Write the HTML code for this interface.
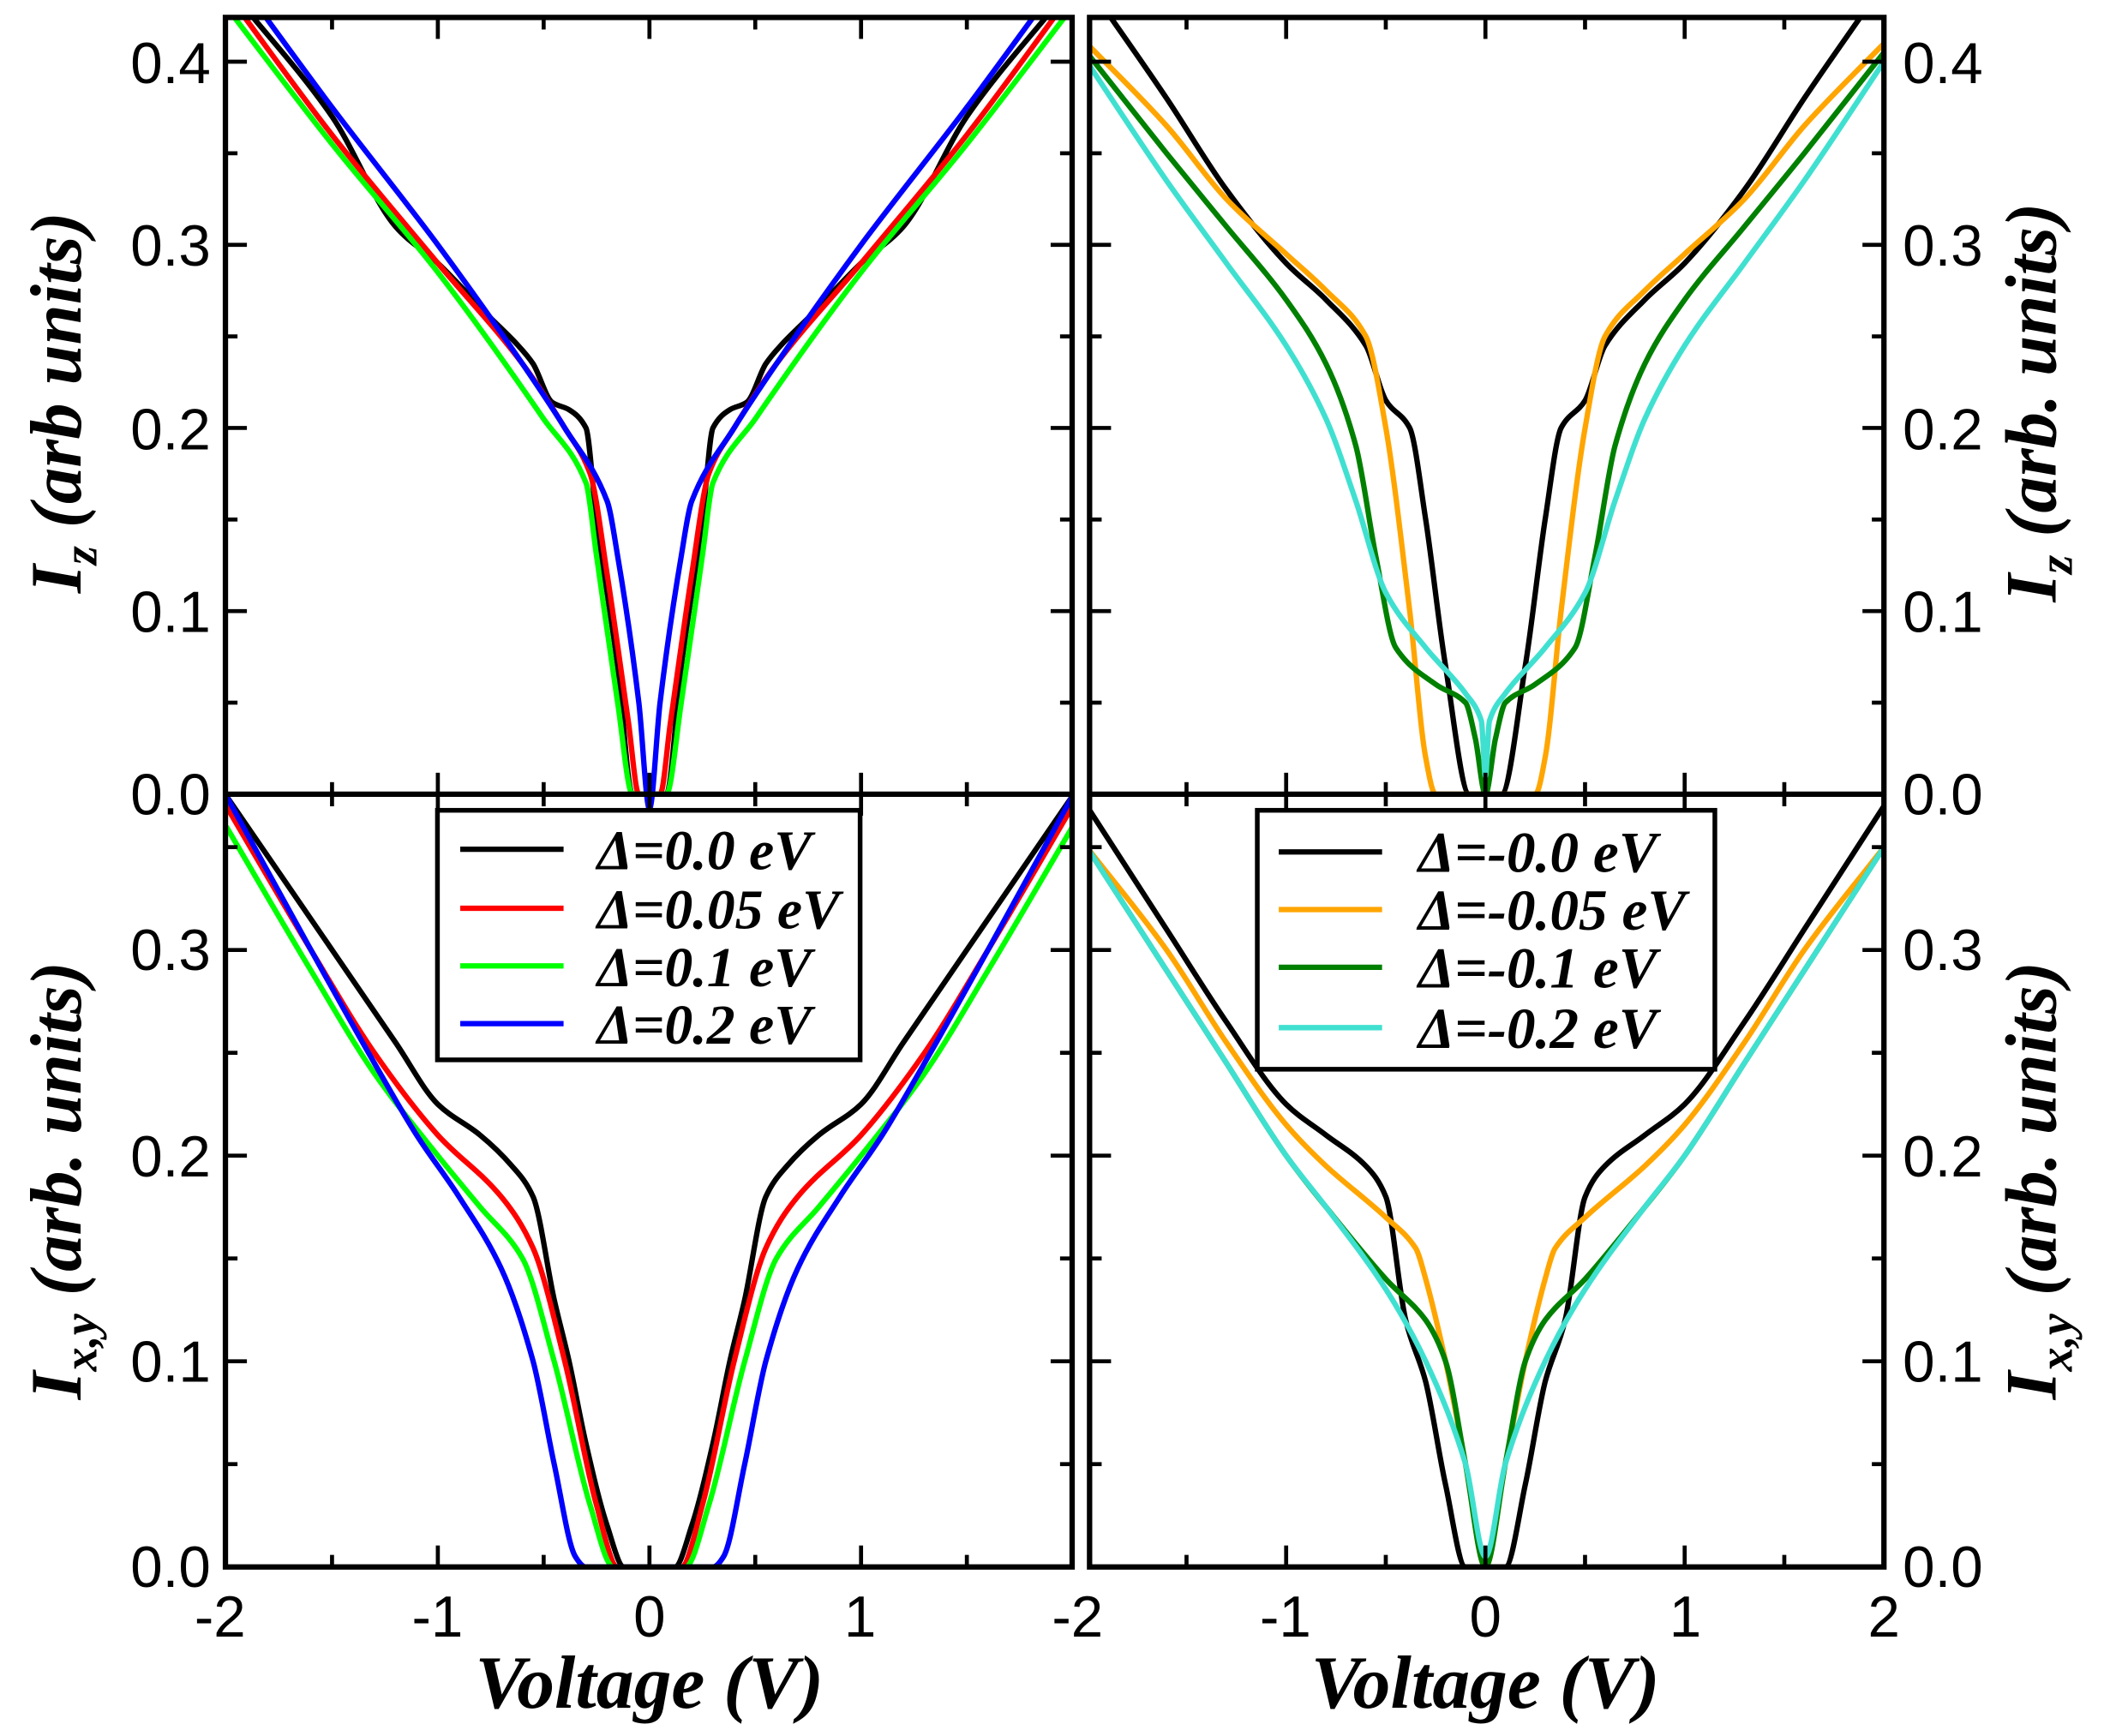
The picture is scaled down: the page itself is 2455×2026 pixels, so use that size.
<!DOCTYPE html>
<html><head><meta charset="utf-8"><style>
html,body{margin:0;padding:0;background:#fff;}
svg{display:block;}
.tl{font-family:"Liberation Sans",sans-serif;font-size:43px;fill:#000;}
.ti{font-family:"Liberation Serif",serif;font-weight:bold;font-style:italic;fill:#000;}
</style></head><body>
<svg id="s" width="2455" height="2026" viewBox="0 0 1568 1294" preserveAspectRatio="none" xmlns="http://www.w3.org/2000/svg">
<defs>
<clipPath id="cTL"><rect x="168" y="13" width="631" height="592"/></clipPath>
<clipPath id="cBL"><rect x="168" y="592" width="631" height="576"/></clipPath>
<clipPath id="cTR"><rect x="812" y="13" width="592" height="592"/></clipPath>
<clipPath id="cBR"><rect x="812" y="592" width="592" height="576"/></clipPath>
</defs>
<g id="curves"></g>
<g id="ticks" stroke="#000" stroke-width="3"></g>
<g fill="none" stroke="#000" stroke-width="4">
<rect x="168" y="13" width="631" height="1155"/>
<rect x="812" y="13" width="592" height="1155"/>
<line x1="168" y1="592" x2="799" y2="592"/>
<line x1="812" y1="592" x2="1404" y2="592"/>
</g>
<g class="tl" text-anchor="end">
<text x="157" y="62">0.4</text><text x="157" y="198">0.3</text><text x="157" y="335">0.2</text><text x="157" y="471">0.1</text><text x="157" y="607">0.0</text>
<text x="157" y="723">0.3</text><text x="157" y="877">0.2</text><text x="157" y="1030">0.1</text><text x="157" y="1183">0.0</text>
</g>
<g class="tl" text-anchor="start">
<text x="1418" y="62">0.4</text><text x="1418" y="198">0.3</text><text x="1418" y="335">0.2</text><text x="1418" y="471">0.1</text><text x="1418" y="607">0.0</text>
<text x="1418" y="723">0.3</text><text x="1418" y="877">0.2</text><text x="1418" y="1030">0.1</text><text x="1418" y="1183">0.0</text>
</g>
<g class="tl" text-anchor="middle">
<text x="164" y="1220">-2</text><text x="326" y="1220">-1</text><text x="484" y="1220">0</text><text x="641" y="1220">1</text>
<text x="803" y="1220">-2</text><text x="958" y="1220">-1</text><text x="1107" y="1220">0</text><text x="1256" y="1220">1</text><text x="1404" y="1220">2</text>
</g>
<g class="ti" font-size="56" text-anchor="middle">
<text x="484" y="1273">Voltage (V)</text><text x="1107" y="1273">Voltage (V)</text>
</g>
<g class="ti" font-size="54" text-anchor="middle">
<text transform="translate(60,300) rotate(-90)">I<tspan font-size="36" dy="12">z</tspan><tspan dy="-12"> (arb units)</tspan></text>
<text transform="translate(60,880) rotate(-90)">I<tspan font-size="36" dy="12">x,y</tspan><tspan dy="-12"> (arb. units)</tspan></text>
<text transform="translate(1532,300) rotate(-90)">I<tspan font-size="36" dy="12">z</tspan><tspan dy="-12"> (arb. units)</tspan></text>
<text transform="translate(1532,880) rotate(-90)">I<tspan font-size="36" dy="12">x,y</tspan><tspan dy="-12"> (arb. units)</tspan></text>
</g>
<rect x="326" y="604" width="315" height="186" fill="#fff" stroke="#000" stroke-width="3.5"/>
<g stroke-width="4">
<line x1="343" y1="633" x2="420" y2="633" stroke="#000"/>
<line x1="343" y1="677" x2="420" y2="677" stroke="#f00"/>
<line x1="343" y1="720" x2="420" y2="720" stroke="#0f0"/>
<line x1="343" y1="763" x2="420" y2="763" stroke="#00f"/>
</g>
<g class="ti" font-size="42">
<text x="445" y="648">Δ=0.0 eV</text><text x="445" y="692">Δ=0.05 eV</text><text x="445" y="735">Δ=0.1 eV</text><text x="445" y="778">Δ=0.2 eV</text>
</g>
<rect x="937" y="604" width="341" height="193" fill="#fff" stroke="#000" stroke-width="3.5"/>
<g stroke-width="4">
<line x1="953" y1="635" x2="1030" y2="635" stroke="#000"/>
<line x1="953" y1="678" x2="1030" y2="678" stroke="#ffa500"/>
<line x1="953" y1="721" x2="1030" y2="721" stroke="#008000"/>
<line x1="953" y1="766" x2="1030" y2="766" stroke="#40e0d0"/>
</g>
<g class="ti" font-size="43">
<text x="1057" y="650">Δ=-0.0 eV</text><text x="1057" y="693">Δ=-0.05 eV</text><text x="1057" y="736">Δ=-0.1 eV</text><text x="1057" y="781">Δ=-0.2 eV</text>
</g>
</svg>
<script>
var NS="http://www.w3.org/2000/svg";
var panels={
TL:{x0:484,sx:157.7,y0:592,sy:1365},
BL:{x0:484,sx:157.7,y0:1168,sy:1533},
TR:{x0:1107,sx:148.5,y0:592,sy:1365},
BR:{x0:1107,sx:148.5,y0:1168,sy:1533}};
var data={
TL:[["#000",[[0.08,0],[0.15,0.07],[0.25,0.15],[0.3,0.2],[0.38,0.21],[0.46,0.214],[0.55,0.235],[0.62,0.245],[0.75,0.26],[1.0,0.29],[1.2,0.31],[1.5,0.37],[1.95,0.435]]],
["#f00",[[0.05,0],[0.1,0.04],[0.2,0.12],[0.28,0.175],[0.4,0.2],[0.6,0.235],[1.0,0.29],[1.5,0.36],[1.95,0.43]]],
["#0f0",[[0.08,0],[0.15,0.05],[0.25,0.13],[0.3,0.17],[0.5,0.205],[1,0.285],[1.5,0.355],[2,0.43]]],
["#00f",[[0,-0.008],[0.05,0.05],[0.15,0.13],[0.2,0.16],[0.4,0.2],[0.6,0.235],[1,0.3],[1.5,0.375],[1.85,0.43]]]],
BL:[["#000",[[0,0],[0.12,0],[0.2,0.02],[0.3,0.06],[0.38,0.1],[0.45,0.13],[0.55,0.18],[0.65,0.195],[0.8,0.21],[1.0,0.225],[1.2,0.255],[1.5,0.3],[2,0.375]]],
["#f00",[[0,0],[0.15,0],[0.25,0.03],[0.4,0.1],[0.55,0.155],[0.7,0.18],[1.0,0.21],[1.3,0.25],[1.6,0.3],[2,0.37]]],
["#0f0",[[0,0],[0.17,0],[0.28,0.03],[0.45,0.1],[0.6,0.15],[0.8,0.175],[1.0,0.2],[1.3,0.24],[1.6,0.29],[2,0.36]]],
["#00f",[[0,0],[0.3,0],[0.35,0.005],[0.45,0.05],[0.55,0.1],[0.7,0.145],[0.9,0.18],[1.1,0.21],[1.3,0.245],[1.6,0.3],[2,0.375]]]],
TR:[["#000",[[0,0],[0.08,0],[0.2,0.07],[0.3,0.15],[0.38,0.2],[0.5,0.215],[0.6,0.245],[0.8,0.27],[1,0.29],[1.3,0.33],[1.6,0.38],[1.95,0.435]]],
["#ffa500",[[0,0],[0.25,0],[0.3,0.02],[0.38,0.1],[0.5,0.2],[0.6,0.25],[0.8,0.275],[1,0.295],[1.3,0.325],[1.6,0.365],[2,0.41]]],
["#008000",[[0,0],[0.05,0.03],[0.1,0.05],[0.25,0.06],[0.45,0.08],[0.55,0.13],[0.65,0.19],[0.8,0.235],[1,0.27],[1.3,0.31],[1.6,0.35],[2,0.405]]],
["#40e0d0",[[0,0.01],[0.02,0.04],[0.1,0.055],[0.3,0.08],[0.5,0.11],[0.65,0.16],[0.8,0.205],[1,0.245],[1.3,0.29],[1.6,0.335],[2,0.4]]]],
BR:[["#000",[[0,0],[0.1,0],[0.2,0.04],[0.3,0.09],[0.4,0.12],[0.5,0.18],[0.6,0.195],[0.8,0.21],[1,0.225],[1.3,0.265],[1.6,0.31],[2,0.37]]],
["#ffa500",[[0,0],[0.1,0.05],[0.2,0.1],[0.3,0.14],[0.35,0.155],[0.5,0.17],[0.8,0.195],[1,0.215],[1.3,0.255],[1.6,0.3],[2,0.35]]],
["#008000",[[0,0],[0.1,0.05],[0.2,0.1],[0.3,0.12],[0.5,0.14],[0.8,0.175],[1,0.2],[1.3,0.245],[1.6,0.29],[2,0.35]]],
["#40e0d0",[[0,0.005],[0.1,0.05],[0.3,0.1],[0.5,0.135],[0.8,0.175],[1,0.2],[1.3,0.245],[1.6,0.29],[2,0.35]]]]};
var g=document.getElementById("curves");
function path(p){var n=p.length,d=[],m=[];
for(var i=0;i<n-1;i++)d.push((p[i+1][1]-p[i][1])/(p[i+1][0]-p[i][0]));
m[0]=d[0];m[n-1]=d[n-2];
for(var i=1;i<n-1;i++){if(d[i-1]*d[i]<=0)m[i]=0;else m[i]=2/(1/d[i-1]+1/d[i]);}
var s="M"+p[0][0].toFixed(1)+","+p[0][1].toFixed(1);
for(var i=0;i<n-1;i++){var h=(p[i+1][0]-p[i][0])/3;
s+="C"+(p[i][0]+h).toFixed(1)+","+(p[i][1]+m[i]*h).toFixed(1)+" "+(p[i+1][0]-h).toFixed(1)+","+(p[i+1][1]-m[i+1]*h).toFixed(1)+" "+p[i+1][0].toFixed(1)+","+p[i+1][1].toFixed(1);}
return s;}
for(var k in data){var P=panels[k];var gg=document.createElementNS(NS,"g");gg.setAttribute("clip-path","url(#c"+k+")");g.appendChild(gg);
data[k].forEach(function(s){var pts=s[1];var full=[];
for(var i=pts.length-1;i>=0;i--)full.push([-pts[i][0],pts[i][1]]);
for(var i=0;i<pts.length;i++){if(i==0&&pts[0][0]==0)continue;full.push(pts[i]);}
full=full.map(function(p){return [P.x0+p[0]*P.sx,P.y0-p[1]*P.sy];});
var e=document.createElementNS(NS,"path");e.setAttribute("d",path(full));e.setAttribute("fill","none");e.setAttribute("stroke",s[0]);e.setAttribute("stroke-width","4");gg.appendChild(e);});}
var t=document.getElementById("ticks");
function L(x1,y1,x2,y2){var e=document.createElementNS(NS,"line");e.setAttribute("x1",x1);e.setAttribute("y1",y1);e.setAttribute("x2",x2);e.setAttribute("y2",y2);t.appendChild(e);}
[["TL",168,799,13,592],["BL",168,799,592,1168],["TR",812,1404,13,592],["BR",812,1404,592,1168]].forEach(function(a){var P=panels[a[0]];
for(var v=-2;v<=2.001;v+=0.5){var x=P.x0+v*P.sx;if(x<a[1]+2||x>a[2]-2)continue;var len=(Math.abs(v-Math.round(v))<0.01)?16:9;L(x,a[4],x,a[4]-len);L(x,a[3],x,a[3]+len);}
for(var q=0;q<=0.45;q+=0.05){var y=P.y0-q*P.sy;if(y<a[3]+2||y>a[4]-2)continue;var len=(Math.round(q*20)%2==0)?16:9;L(a[1],y,a[1]+len,y);L(a[2],y,a[2]-len,y);}
});
</script>
</body></html>
